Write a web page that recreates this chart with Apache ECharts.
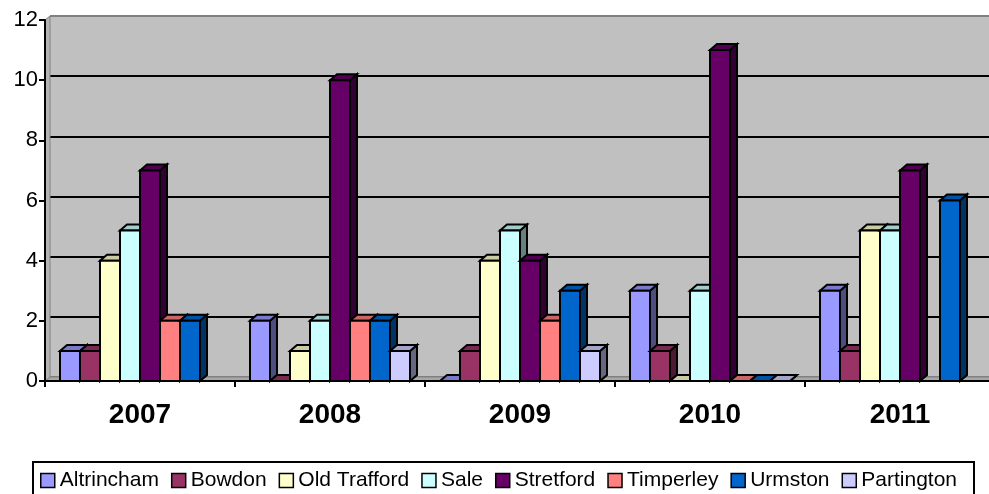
<!DOCTYPE html>
<html>
<head>
<meta charset="utf-8">
<script src="https://cdn.jsdelivr.net/npm/echarts@6/dist/echarts.min.js"></script>
<style>
    html, body { margin: 0; padding: 0; background: #fff; }
    #chart { width: 989px; height: 494px; }
</style>
</head>
<body>
<div id="chart"></div>
<script>
var years = ['2007', '2008', '2009', '2010', '2011'];
var yTicks = [0, 2, 4, 6, 8, 10, 12];

// one array per area, a value per year (null = no bar)
var altrincham = [1, 2, 0, 3, 3];
var bowdon = [1, 0, 1, 1, 1];
var oldTrafford = [4, 1, 4, 0, 5];
var sale = [5, 2, 5, 3, 5];
var stretford = [7, 10, 4, 11, 7];
var timperley = [2, 2, 2, 0, null];
var urmston = [2, 2, 3, 0, 6];
var partington = [null, 1, 1, 0, null];

var areaNames = ['Altrincham', 'Bowdon', 'Old Trafford', 'Sale', 'Stretford', 'Timperley', 'Urmston', 'Partington'];
var areaValues = [altrincham, bowdon, oldTrafford, sale, stretford, timperley, urmston, partington];
var areaColors = ['#9999FF', '#993366', '#FFFFCC', '#CCFFFF', '#660066', '#FF8080', '#0066CC', '#CCCCFF'];

var shade = function (hex, k) {
    var n = parseInt(hex.slice(1), 16);
    var r = Math.round(((n >> 16) & 255) * k);
    var g = Math.round(((n >> 8) & 255) * k);
    var b = Math.round((n & 255) * k);
    return 'rgb(' + r + ',' + g + ',' + b + ')';
};

var dom = document.getElementById('chart');
var myChart = echarts.init(dom);

var barW = 20, dx = 7, dy = 6;

var makeRender = function (idx) {
    var col = areaColors[idx];
    return function (params, api) {
        var v = api.value(1);
        if (v == null || isNaN(v)) return null;
        var cat = api.value(0);
        var base = api.coord([cat, 0]);
        var top = api.coord([cat, v]);
        var x0 = base[0] - barW * areaNames.length / 2 + idx * barW;
        var x1 = x0 + barW;
        var stroke = { stroke: '#000', lineWidth: 2, lineJoin: 'miter' };
        return {
            type: 'group',
            children: [
                {
                    type: 'polygon',
                    shape: { points: [[x1, top[1]], [x1 + dx, top[1] - dy], [x1 + dx, base[1] - dy], [x1, base[1]]] },
                    style: Object.assign({ fill: shade(col, 0.5) }, stroke)
                },
                {
                    type: 'polygon',
                    shape: { points: [[x0, top[1]], [x0 + dx, top[1] - dy], [x1 + dx, top[1] - dy], [x1, top[1]]] },
                    style: Object.assign({ fill: shade(col, 0.8) }, stroke)
                },
                {
                    type: 'rect',
                    shape: { x: x0, y: top[1], width: barW, height: base[1] - top[1] },
                    style: Object.assign({ fill: col }, stroke)
                }
            ]
        };
    };
};

var series = areaNames.map(function (name, i) {
    var data = areaValues[i].map(function (v, j) {
        return v == null ? [j, '-'] : [j, v];
    });
    return {
        name: name,
        type: 'custom',
        xAxisIndex: 0,
        yAxisIndex: 0,
        itemStyle: { color: areaColors[i] },
        renderItem: makeRender(i),
        encode: { x: 0, y: 1 },
        data: data,
        z: 3
    };
});

var option = {
    animation: false,
    grid: [
        { left: 45, top: 20, width: 950, height: 361, outerBoundsMode: 'none', containLabel: false },
        { left: 50, top: 16, width: 950, height: 361, outerBoundsMode: 'none', containLabel: false,
          show: true, backgroundColor: '#C0C0C0', borderWidth: 0 }
    ],
    xAxis: [
        {
            gridIndex: 0,
            type: 'category',
            data: years,
            boundaryGap: true,
            axisLine: { lineStyle: { color: '#000', width: 2 } },
            axisTick: { show: true, length: 6, lineStyle: { color: '#000', width: 2 } },
            axisLabel: { color: '#000', fontFamily: 'Liberation Sans', fontSize: 28, fontWeight: 'bold', margin: 20 },
            z: 5
        },
        { gridIndex: 1, type: 'category', data: years, show: false }
    ],
    yAxis: [
        {
            gridIndex: 0,
            type: 'value',
            min: yTicks[0],
            max: yTicks[yTicks.length - 1],
            interval: 2,
            axisLine: { show: true, lineStyle: { color: '#000', width: 2 } },
            axisTick: { show: true, length: 6, lineStyle: { color: '#000', width: 2 } },
            axisLabel: { color: '#000', fontFamily: 'Liberation Sans', fontSize: 22, margin: 7 },
            splitLine: { show: false },
            z: 5
        },
        {
            gridIndex: 1,
            type: 'value',
            min: yTicks[0],
            max: yTicks[yTicks.length - 1],
            interval: 2,
            axisLine: { show: false },
            axisTick: { show: false },
            axisLabel: { show: false },
            splitLine: {
                show: true,
                lineStyle: { color: ['#808080', '#000', '#000', '#000', '#000', '#000', '#808080'], width: 2 }
            }
        }
    ],
    graphic: [
        {
            type: 'polygon',
            shape: { points: [[45, 381], [50, 377], [995, 377], [990, 381]] },
            style: { fill: '#A8A8A8', stroke: '#808080', lineWidth: 1 },
            z: 1
        },
        {
            type: 'polygon',
            shape: { points: [[45, 20], [50, 16], [50, 377], [45, 381]] },
            style: { fill: '#B4B4B4', stroke: '#808080', lineWidth: 1 },
            z: 1
        }
    ],
    legend: {
        left: 33,
        top: 462,
        icon: 'rect',
        itemWidth: 14,
        itemHeight: 14,
        itemGap: 12,
        padding: [8, 17, 8, 7],
        borderColor: '#000',
        borderWidth: 2,
        itemStyle: { borderColor: '#000', borderWidth: 1.5 },
        textStyle: { color: '#000', fontFamily: 'Liberation Sans', fontSize: 21 },
        data: areaNames
    },
    series: series
};
myChart.setOption(option);
</script>
</body>
</html>
